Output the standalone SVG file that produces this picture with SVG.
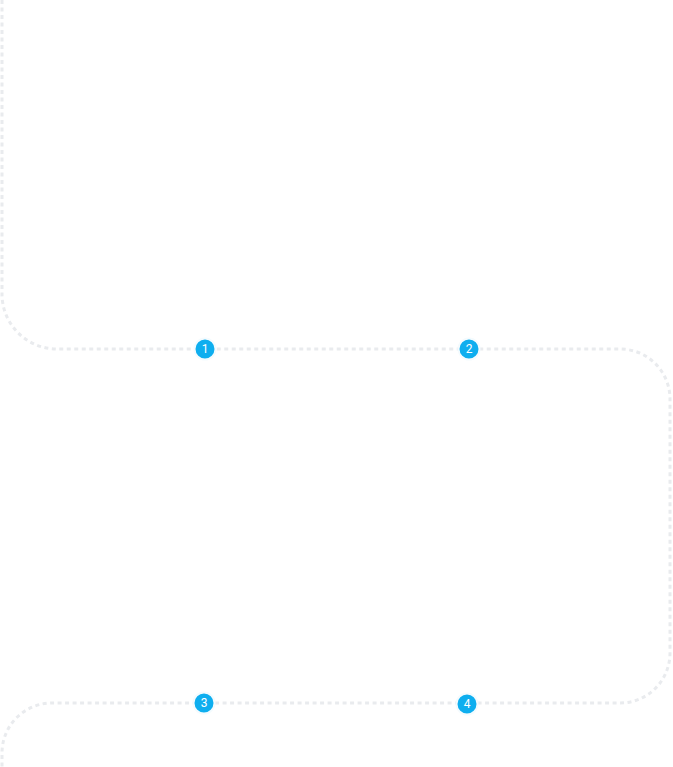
<svg xmlns="http://www.w3.org/2000/svg" width="673" height="767" viewBox="0 0 673 767">
<style>
.path{fill:none;stroke:#e9ebee;stroke-width:3;stroke-dasharray:4 3.5}
.badge circle{fill:#0eaeef;stroke:#f4fbfe;stroke-width:2}
.badge text{fill:#ffffff;font-family:Roboto,"Liberation Sans",sans-serif;font-size:12px;text-anchor:middle;dominant-baseline:central}
</style>
<rect width="673" height="767" fill="#ffffff"/>
<g id="connectors">
<path class="path" d="M2,0 V294 A55,55 0 0 0 57,349 H620 A50,50 0 0 1 670,399 V653 A50,50 0 0 1 620,703 H52 A50,50 0 0 0 2,753 V767"/>
</g>
<g id="node1" class="badge"><circle cx="205" cy="349" r="10.5"/><text x="205" y="349">1</text></g>
<g id="node2" class="badge"><circle cx="469" cy="349" r="10.5"/><text x="469" y="349">2</text></g>
<g id="node3" class="badge"><circle cx="204" cy="703" r="10.5"/><text x="204" y="703">3</text></g>
<g id="node4" class="badge"><circle cx="467" cy="704" r="10.5"/><text x="467" y="704">4</text></g>
</svg>
